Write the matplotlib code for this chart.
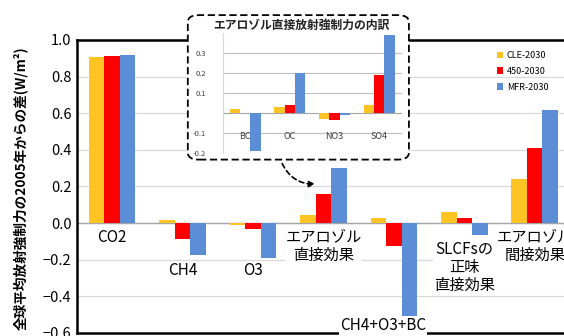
import matplotlib
matplotlib.use("Agg")
import matplotlib.pyplot as plt
import numpy as np
from matplotlib.patches import FancyBboxPatch

plt.rcParams['font.family'] = ['Noto Sans CJK JP', 'DejaVu Sans']

# main chart data
categories = ['CO2', 'CH4', 'O3', 'エアロゾル\n直接効果', 'CH4+O3+BC',
              'SLCFsの\n正味\n直接効果', 'エアロゾル\n間接効果']
label_y = [-0.03, -0.215, -0.215, -0.03, -0.515, -0.095, -0.03]
series = ['CLE-2030', '450-2030', 'MFR-2030']
cle = [0.905, 0.015, -0.01, 0.045, 0.03, 0.06, 0.24]
s450 = [0.912, -0.088, -0.03, 0.16, -0.125, 0.03, 0.41]
mfr = [0.916, -0.174, -0.19, 0.30, -0.51, -0.065, 0.615]
colors = ['#FFC423', '#FF0000', '#5B8ED6']

# inset data (aerosol direct breakdown)
sub_categories = ['BC', 'OC', 'NO3', 'SO4']
sub_cle = [0.018, 0.027, -0.03, 0.04]
sub_450 = [0.0, 0.04, -0.038, 0.19]
sub_mfr = [-0.19, 0.20, -0.01, 0.39]

fig = plt.figure(figsize=(5.64, 3.36), dpi=100)
ax = fig.add_axes([0.1365, 0.009, 0.874, 0.872])

x = np.arange(len(categories))
w = 0.22
for i, vals in enumerate([cle, s450, mfr]):
    ax.bar(x + (i - 1) * w, vals, w, color=colors[i], label=series[i], zorder=3)

ax.set_xlim(-0.5, 6.5)
ax.set_ylim(-0.6, 1.0)
ax.set_yticks(np.arange(-0.6, 1.01, 0.2))
ax.set_yticklabels(['−0.6', '−0.4', '−0.2', '0.0', '0.2', '0.4', '0.6', '0.8', '1.0'])
ax.tick_params(axis='y', labelsize=10.5, length=0, pad=4)
ax.set_xticks([])
ax.grid(axis='y', color='#d9d9d9', lw=0.9, zorder=0)
ax.axhline(0, color='#a6a6a6', lw=1.0, zorder=2)
for s in ['left', 'bottom', 'top']:
    ax.spines[s].set_linewidth(1.8)
ax.spines['right'].set_visible(False)

for xi, lab, ly in zip(x, categories, label_y):
    dx = -0.15 if lab == 'CH4+O3+BC' else 0
    ax.text(xi + dx, ly, lab, ha='center', va='top', fontsize=11, linespacing=1.1,
            bbox=dict(fc='white', ec='none', pad=0.5), zorder=4)

ax.set_ylabel('全球平均放射強制力の2005年からの差(W/m²)', fontsize=9.8,
              fontweight='bold')
ax.yaxis.set_label_coords(-0.098, 0.495)

leg = ax.legend(loc='upper left', bbox_to_anchor=(0.835, 0.99), frameon=False,
                fontsize=6.5, handlelength=0.7, handleheight=0.7,
                handletextpad=0.4, labelspacing=0.75)

# dashed rounded box around inset
box = FancyBboxPatch((0.333, 0.525), 0.392, 0.43, boxstyle='round,pad=0,rounding_size=0.02',
                     transform=fig.transFigure, fc='white', ec='black', lw=1.3,
                     ls=(0, (4, 2)), zorder=5)
fig.patches.append(box)

ins = fig.add_axes([0.395, 0.545, 0.317, 0.357], zorder=6)
ins.patch.set_alpha(0)
xs = np.arange(len(sub_categories))
ws = 0.23
for i, vals in enumerate([sub_cle, sub_450, sub_mfr]):
    ins.bar(xs + (i - 1) * ws, vals, ws, color=colors[i], zorder=3)
ins.set_xlim(-0.5, 3.5)
ins.set_ylim(-0.2, 0.4)
ins.set_yticks([-0.2, -0.1, 0.1, 0.2, 0.3])
ins.set_yticklabels(['-0.2', '-0.1', '0.1', '0.2', '0.3'])
ins.tick_params(axis='y', labelsize=5.5, length=0, pad=12, labelcolor='#404040')
ins.set_xticks([])
ins.grid(axis='y', color='#bfbfbf', lw=0.8, zorder=0)
ins.axhline(0, color='#a6a6a6', lw=0.8, zorder=2)
for s in ['top', 'right', 'bottom']:
    ins.spines[s].set_visible(False)
ins.spines['left'].set_color('#d9d9d9')
for xi, lab in zip(xs, sub_categories):
    ins.text(xi, -0.12, lab, ha='center', va='center', fontsize=6.5, color='#404040',
             zorder=4)
fig.text(0.535, 0.925, 'エアロゾル直接放射強制力の内訳', ha='center', va='center',
         fontsize=8.5, fontweight='bold', color='#222222', zorder=7)

# arrow from inset to aerosol direct bars
ax.annotate('', xy=(318 / 564, 1 - 184 / 336), xycoords='figure fraction',
            xytext=(281 / 564, 1 - 161 / 336), textcoords='figure fraction',
            arrowprops=dict(arrowstyle='-|>', color='black', lw=1.2, ls=(0, (3, 2)),
                            connectionstyle='arc3,rad=0.35', mutation_scale=9),
            zorder=8)

fig.savefig('out.png', dpi=100)
